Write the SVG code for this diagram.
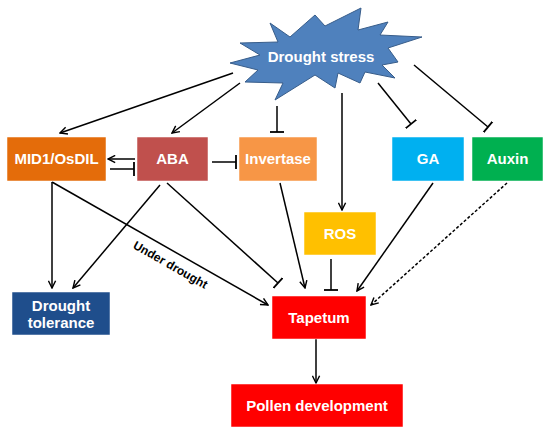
<svg xmlns="http://www.w3.org/2000/svg" width="550" height="435" viewBox="0 0 550 435">
<style>
.lbl{font-family:"Liberation Sans",Arial,sans-serif;font-weight:bold;font-size:15px;fill:#fff;text-anchor:middle}
.c{stroke:#000;stroke-width:1.5;fill:none}
.a{marker-end:url(#arr)}
.t{marker-end:url(#tee)}
.box{stroke:#fff;stroke-width:0.5}
</style>
<defs>
<marker id="arr" viewBox="0 0 10 10" refX="9" refY="5" markerWidth="9" markerHeight="9" orient="auto" markerUnits="userSpaceOnUse"><path d="M1,1 L9,5 L1,9" fill="none" stroke="#000" stroke-width="1.6"/></marker>
<marker id="tee" viewBox="0 0 4 14" refX="2" refY="7" markerWidth="4" markerHeight="14" orient="auto" markerUnits="userSpaceOnUse"><path d="M2,0 L2,14" stroke="#000" stroke-width="1.8"/></marker>
</defs>
<rect width="550" height="435" fill="#fff"/>
<g id="connectors">
<line class="c a" x1="233" y1="73" x2="60" y2="133"/>
<line class="c a" x1="240" y1="83" x2="172" y2="133"/>
<line class="c t" x1="277" y1="106" x2="277" y2="132"/>
<line class="c a" x1="342" y1="93" x2="342" y2="210"/>
<line class="c t" x1="378" y1="83" x2="411" y2="124"/>
<line class="c t" x1="414" y1="65" x2="488" y2="127"/>
<line class="c a" x1="135" y1="159" x2="108" y2="159"/>
<line class="c t" x1="110" y1="169" x2="134" y2="169"/>
<line class="c t" x1="212" y1="162" x2="236" y2="162"/>
<line class="c a" x1="52" y1="182" x2="52" y2="288"/>
<line class="c a" x1="52" y1="182" x2="268" y2="305"/>
<line class="c a" x1="160" y1="185" x2="73" y2="288"/>
<line class="c t" x1="167" y1="183" x2="278" y2="283"/>
<line class="c a" x1="280" y1="183" x2="305" y2="288"/>
<line class="c t" x1="331" y1="259" x2="331" y2="290"/>
<line class="c a" x1="433" y1="183" x2="357" y2="291"/>
<line class="c a" x1="507" y1="183" x2="371" y2="305" stroke-dasharray="3,2"/>
<line class="c a" x1="316" y1="339" x2="316" y2="383"/>
<text x="171" y="269" transform="rotate(29.8 171 264)" font-family="Liberation Sans,Arial,sans-serif" font-weight="bold" font-size="12" fill="#000" text-anchor="middle">Under drought</text>
</g>
<g id="drought-stress">
<path d="M270,23 L290,37 L315,15 L325,26 L361,8 L358,30 L388,22 L380,35 L422,37 L388,48 L398,62 L382,65 L395,78 L365,72 L360,83 L338,73 L335,88 L315,75 L275,100 L283,83 L245,82 L258,70 L230,63 L260,55 L240,43 L278,42 Z" fill="#4f81bd" stroke="#385d8a" stroke-width="1"/>
<text class="lbl" x="321" y="62">Drought stress</text>
</g>
<g id="mid1"><rect class="box" x="7" y="137" width="99" height="44" fill="#e46c0a"/><text class="lbl" x="56.5" y="164">MID1/OsDIL</text></g>
<g id="aba"><rect class="box" x="137" y="137" width="71" height="44" fill="#c0504d"/><text class="lbl" x="172.5" y="164">ABA</text></g>
<g id="invertase"><rect class="box" x="239" y="137" width="78" height="44" fill="#f79646"/><text class="lbl" x="278" y="164">Invertase</text></g>
<g id="ga"><rect class="box" x="392" y="137" width="72" height="44" fill="#00b0f0"/><text class="lbl" x="428" y="164">GA</text></g>
<g id="auxin"><rect class="box" x="472" y="137" width="71" height="44" fill="#00b050"/><text class="lbl" x="507.5" y="164">Auxin</text></g>
<g id="ros"><rect class="box" x="304" y="212" width="72" height="43" fill="#ffc000"/><text class="lbl" x="340" y="239">ROS</text></g>
<g id="drought-tolerance"><rect class="box" x="12" y="292" width="98" height="43" fill="#1f4e8c"/><text class="lbl" x="61" y="311">Drought</text><text class="lbl" x="61" y="328">tolerance</text></g>
<g id="tapetum"><rect class="box" x="272" y="296" width="94" height="43" fill="#ff0000"/><text class="lbl" x="319" y="323">Tapetum</text></g>
<g id="pollen"><rect class="box" x="231" y="384" width="172" height="43" fill="#ff0000"/><text class="lbl" x="317" y="411">Pollen development</text></g>
</svg>
